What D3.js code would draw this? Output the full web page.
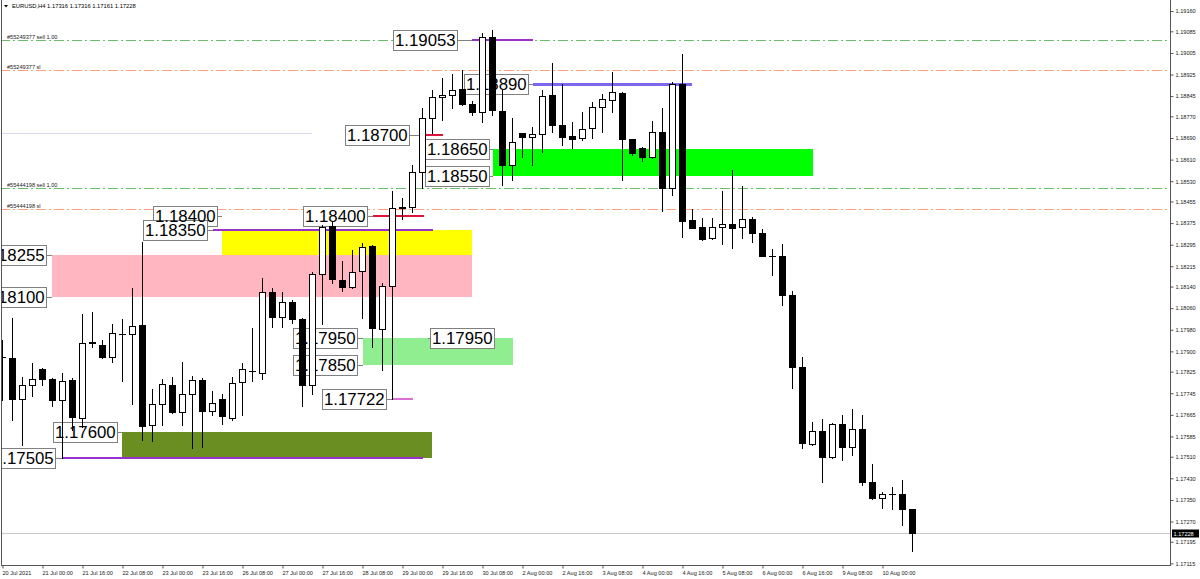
<!DOCTYPE html>
<html><head><meta charset="utf-8">
<script src="https://cdn.jsdelivr.net/npm/d3@7"></script>
<style>body{margin:0;background:#fff;overflow:hidden}svg{display:block}</style>
</head><body>
<svg id="c" width="1200" height="579"></svg>
<script>
// ---------- DATA ----------
const symbolInfo = "EURUSD,H4  1.17316 1.17316 1.17161 1.17228";
const open = [1.17879,1.17875,1.17723,1.17775,1.17834,1.17797,1.17720,1.17794,1.17653,1.17931,
1.17923,1.17879,1.17964,1.17964,1.17997,1.17627,1.17705,1.17775,1.17675,1.17742,
1.17794,1.17679,1.17723,1.17653,1.17786,1.17827,1.17819,1.18119,1.18027,1.18082,
1.18020,1.17775,1.18186,1.18364,1.18164,1.18138,1.18197,1.18290,1.17983,1.18142,
1.18431,1.18434,1.18564,1.18764,1.18842,1.18849,1.18871,1.18816,1.18786,1.19064,
1.18790,1.18590,1.18708,1.18694,1.18705,1.18849,1.18738,1.18697,1.18690,1.18727,
1.18805,1.18831,1.18857,1.18686,1.18653,1.18619,1.18712,1.18505,1.18890,1.18386,
1.18360,1.18320,1.18360,1.18371,1.18360,1.18390,1.18338,1.18253,1.18253,1.18108,
1.17842,1.17557,1.17605,1.17508,1.17631,1.17545,1.17612,1.17416,1.17357,1.17371,
1.17371,1.17316];
const high = [1.17942,1.18023,1.17805,1.17857,1.17838,1.17801,1.17820,1.17801,1.18038,1.18045,
1.17942,1.18001,1.18020,1.18134,1.18305,1.17760,1.17797,1.17805,1.17860,1.17808,
1.17801,1.17753,1.17742,1.17805,1.17857,1.17986,1.18171,1.18134,1.18120,1.18090,
1.18022,1.18194,1.18368,1.18379,1.18234,1.18275,1.18301,1.18292,1.18153,1.18494,
1.18468,1.18590,1.18801,1.18868,1.18912,1.18927,1.18942,1.18827,1.19079,1.19090,
1.18868,1.18764,1.18710,1.18731,1.18868,1.18968,1.18890,1.18749,1.18786,1.18823,
1.18853,1.18934,1.18860,1.18688,1.18655,1.18753,1.18801,1.18897,1.19001,1.18427,
1.18394,1.18394,1.18494,1.18571,1.18512,1.18397,1.18353,1.18279,1.18297,1.18123,
1.17879,1.17638,1.17649,1.17633,1.17664,1.17686,1.17664,1.17483,1.17379,1.17397,
1.17423,1.17316];
const low = [1.17720,1.17645,1.17553,1.17734,1.17775,1.17697,1.17506,1.17608,1.17620,1.17916,
1.17875,1.17860,1.17790,1.17705,1.17571,1.17568,1.17627,1.17671,1.17627,1.17542,
1.17545,1.17664,1.17631,1.17645,1.17664,1.17790,1.17797,1.17990,1.17990,1.18005,
1.17697,1.17742,1.18001,1.18153,1.18123,1.18136,1.18023,1.17916,1.17831,1.17722,
1.18390,1.18416,1.18505,1.18708,1.18757,1.18801,1.18812,1.18775,1.18749,1.18775,
1.18516,1.18534,1.18619,1.18590,1.18638,1.18712,1.18664,1.18653,1.18682,1.18690,
1.18712,1.18786,1.18534,1.18627,1.18605,1.18617,1.18419,1.18479,1.18323,1.18357,
1.18312,1.18316,1.18297,1.18282,1.18320,1.18305,1.18253,1.18182,1.18071,1.17764,
1.17542,1.17555,1.17416,1.17506,1.17497,1.17516,1.17405,1.17353,1.17320,1.17316,
1.17257,1.17161];
const close = [1.17879,1.17723,1.17775,1.17797,1.17797,1.17720,1.17790,1.17657,1.17931,1.17934,
1.17879,1.17968,1.17964,1.17994,1.17623,1.17705,1.17779,1.17675,1.17742,1.17794,
1.17679,1.17708,1.17660,1.17782,1.17834,1.17827,1.18119,1.18027,1.18082,1.18020,
1.17775,1.18186,1.18360,1.18168,1.18138,1.18194,1.18286,1.17986,1.18142,1.18431,
1.18434,1.18564,1.18764,1.18842,1.18849,1.18868,1.18816,1.18786,1.19064,1.18794,
1.18590,1.18675,1.18694,1.18705,1.18845,1.18738,1.18694,1.18686,1.18723,1.18805,
1.18834,1.18860,1.18686,1.18634,1.18619,1.18712,1.18505,1.18890,1.18382,1.18357,
1.18316,1.18360,1.18371,1.18357,1.18390,1.18338,1.18253,1.18253,1.18108,1.17842,
1.17560,1.17605,1.17508,1.17631,1.17545,1.17612,1.17416,1.17357,1.17371,1.17371,
1.17316,1.17228];
const timeLabels = ["20 Jul 2021","21 Jul 00:00","21 Jul 16:00","22 Jul 08:00","23 Jul 00:00","23 Jul 16:00",
"26 Jul 08:00","27 Jul 00:00","27 Jul 16:00","28 Jul 08:00","29 Jul 00:00","29 Jul 16:00","30 Jul 08:00",
"2 Aug 00:00","2 Aug 16:00","3 Aug 08:00","4 Aug 00:00","4 Aug 16:00","5 Aug 08:00","6 Aug 00:00",
"6 Aug 16:00","9 Aug 08:00","10 Aug 00:00"];
const timeLabelBars = [0,4,8,12,16,20,24,28,32,36,40,44,48,52,56,60,64,68,72,76,80,84,88];
const priceTicks = [1.19160,1.19085,1.19005,1.18925,1.18845,1.18770,1.18690,1.18610,1.18530,1.18455,
1.18375,1.18295,1.18215,1.18140,1.18060,1.17980,1.17900,1.17825,1.17745,1.17665,1.17585,1.17510,
1.17430,1.17350,1.17270,1.17195,1.17115];
const currentPrice = 1.17228;
// trade levels
const tradeNames = ["#55249377 sell 1.00","#55249377 sl","#55444198 sell 1.00","#55444198 sl"];
const tradePrices = [1.19053,1.18943,1.18505,1.18427];
const tradeKinds = ["entry","sl","entry","sl"];
// zones (bar index from/to, price top/bottom)
const zoneFrom = [5,22,49.1,36.1,12];
const zoneTo = [47,47,81.1,51.1,43];
const zoneTop = [1.18255,1.18350,1.18650,1.17950,1.17600];
const zoneBottom = [1.18100,1.18255,1.18550,1.17850,1.17505];
const zoneKind = ["pink","yellow","lime","lightgreen","olive"];
// horizontal segments
const segPrice = [1.19053,1.18890,1.18700,1.18400,1.18350,1.17722,1.17505,1.18709];
const segFrom = [47,53.1,41.8,37.1,21.1,39.1,6,-1];
const segTo = [53.1,69,44.1,42.2,43.1,41.1,42.1,31];
const segKind = ["purple","slate","red","red","purple","orchid","purple","faint"];
// price labels (anchor bar index = connector end, box edge bar index)
const labelPrice = [1.19053,1.18890,1.18700,1.18650,1.18550,1.18400,1.18350,1.18400,1.18255,1.18100,1.17950,1.17950,1.17850,1.17722,1.17600,1.17505];
const labelEdge  = [45.5,52.6,40.7,48.7,48.7,21.5,20.5,36.5,4.4,4.4,35.5,42.8,35.5,38.4,11.5,5.3];
const labelAnchor= [47,53.1,41.8,49.1,49.1,22,21.1,37.1,5,5,36.1,42.6,36.1,39.1,12,6];

// ---------- STYLES ----------
const zoneColors = {pink:"#ffb6c1",yellow:"#ffff00",lime:"#00ff00",lightgreen:"#90ee90",olive:"#6b8e23"};
const segColors = {purple:"#9932cc",slate:"#7b68ee",red:"#dc143c",orchid:"#da70d6",faint:"#d8d8ee"};
const segWidths = {purple:2,slate:3,red:2,orchid:2,faint:1};
const tradeColors = {entry:"#6cbd6c",sl:"#ff9f7f"};
const FONT="Liberation Sans, Arial, sans-serif";

const W=1200,H=579,PR=1170,PB=565;
const svg=d3.select("#c");
svg.append("rect").attr("width",W).attr("height",H).attr("fill","#fff");
const x=d3.scaleLinear().domain([0,116.8]).range([2,1170]);
const y=d3.scaleLinear().domain([1.17109,1.19201]).range([565,0]);
const px=v=>Math.round(x(v));
const py=v=>Math.round(y(v));

svg.append("defs").append("clipPath").attr("id","pc").append("rect").attr("x",1).attr("y",0).attr("width",PR-1).attr("height",PB);
const plot=svg.append("g").attr("clip-path","url(#pc)");

// zones
plot.append("g").selectAll("rect").data(zoneKind).join("rect")
 .attr("x",(d,i)=>px(zoneFrom[i])).attr("width",(d,i)=>px(zoneTo[i])-px(zoneFrom[i]))
 .attr("y",(d,i)=>py(zoneTop[i])).attr("height",(d,i)=>py(zoneBottom[i])-py(zoneTop[i]))
 .attr("fill",d=>zoneColors[d]);

// current price line
plot.append("line").attr("x1",0).attr("x2",PR).attr("y1",py(currentPrice)+0.5).attr("y2",py(currentPrice)+0.5)
 .attr("stroke","#c8c8c8").attr("stroke-width",1);

// trade lines
const tg=plot.append("g");
tg.selectAll("line").data(tradePrices).join("line")
 .attr("x1",0).attr("x2",PR).attr("y1",d=>py(d)+0.5).attr("y2",d=>py(d)+0.5)
 .attr("stroke",(d,i)=>tradeColors[tradeKinds[i]]).attr("stroke-width",1).attr("stroke-dasharray","10,3,2,3");
tg.selectAll("text").data(tradeNames).join("text")
 .attr("x",7).attr("y",(d,i)=>py(tradePrices[i])-1.5).text(d=>d)
 .attr("font-family",FONT).attr("font-size",5.6).attr("fill","#222");

// segments
plot.append("g").selectAll("line").data(segPrice).join("line")
 .attr("x1",(d,i)=>x(segFrom[i])).attr("x2",(d,i)=>x(segTo[i]))
 .attr("y1",(d,i)=>py(d)+(segWidths[segKind[i]]%2?0.5:0)).attr("y2",(d,i)=>py(d)+(segWidths[segKind[i]]%2?0.5:0))
 .attr("stroke",(d,i)=>segColors[segKind[i]]).attr("stroke-width",(d,i)=>segWidths[segKind[i]]);

// price labels
const lg=plot.append("g");
labelPrice.forEach((p,i)=>{
  const yy=py(p);
  const edge=px(labelEdge[i]), anc=px(labelAnchor[i]);
  const right = anc>=edge; // box is left of anchor
  const t=lg.append("text").attr("font-family",FONT).attr("font-size",16.8)
    .attr("fill","#000").text(p.toFixed(5)).attr("y",yy+6);
  const tw=t.node().getComputedTextLength();
  const bw=Math.round(tw+3), bh=20;
  const bx= right? edge-bw : edge;
  lg.insert("line","text").attr("x1",right?edge:anc).attr("x2",right?anc:edge).attr("y1",yy+0.5).attr("y2",yy+0.5)
    .attr("stroke","#808080");
  lg.insert("rect","text").attr("x",bx+0.5).attr("y",yy-10+0.5).attr("width",bw).attr("height",bh)
    .attr("fill","#fff").attr("stroke","#808080");
  t.attr("x",bx+2);
});

// candles
const cg=plot.append("g");
const idx=d3.range(open.length);
cg.selectAll("line.w").data(idx).join("line").attr("class","w")
 .attr("x1",i=>px(i)+0.5).attr("x2",i=>px(i)+0.5).attr("y1",i=>py(high[i])).attr("y2",i=>py(low[i])+1)
 .attr("stroke","#000");
cg.selectAll("rect.b").data(idx.filter(i=>py(open[i])!==py(close[i]))).join("rect").attr("class","b")
 .attr("x",i=>px(i)-2.5).attr("width",6)
 .attr("y",i=>Math.min(py(open[i]),py(close[i]))+0.5)
 .attr("height",i=>Math.abs(py(open[i])-py(close[i])))
 .attr("fill",i=>close[i]>=open[i]?"#fff":"#000").attr("stroke","#000");
cg.selectAll("line.d").data(idx.filter(i=>py(open[i])===py(close[i]))).join("line").attr("class","d")
 .attr("x1",i=>px(i)-3).attr("x2",i=>px(i)+4).attr("y1",i=>py(open[i])+0.5).attr("y2",i=>py(open[i])+0.5)
 .attr("stroke","#000");

// frame
const axCol="#555";
svg.append("line").attr("x1",1.5).attr("x2",1.5).attr("y1",0).attr("y2",PB).attr("stroke",axCol);
svg.append("line").attr("x1",PR+0.5).attr("x2",PR+0.5).attr("y1",0).attr("y2",PB+1).attr("stroke",axCol);
svg.append("line").attr("x1",1).attr("x2",PR+1).attr("y1",PB+0.5).attr("y2",PB+0.5).attr("stroke",axCol);

// right axis
const ra=svg.append("g").attr("transform",`translate(${PR+0.5},0)`)
 .call(d3.axisRight(y).tickValues(priceTicks).tickFormat(d3.format(".5f")).tickSize(3).tickPadding(2));
ra.select(".domain").remove();
ra.selectAll("line").attr("stroke",axCol);
ra.selectAll("text").attr("font-family",FONT).attr("font-size",5.6).attr("fill","#222");

// bottom axis
const ba=svg.append("g").attr("transform",`translate(0.5,${PB+0.5})`)
 .call(d3.axisBottom(x).tickValues(timeLabelBars).tickFormat((d,i)=>timeLabels[i]).tickSize(3).tickPadding(2.5));
ba.select(".domain").remove();
ba.selectAll("line").attr("stroke",axCol);
ba.selectAll("text").attr("text-anchor","start").attr("x",-0.5)
 .attr("font-family",FONT).attr("font-size",5.6).attr("fill","#222");

// header
svg.append("path").attr("d","M4,5 L8,5 L6,7.5 Z").attr("fill","#000");
svg.append("text").attr("x",12).attr("y",8.2).text(symbolInfo)
 .attr("font-family",FONT).attr("font-size",5.8).attr("fill","#000");

// current price tag
const cy=py(currentPrice);
svg.append("rect").attr("x",PR+2).attr("y",cy-3.5).attr("width",27).attr("height",8).attr("fill","#000");
svg.append("text").attr("x",PR+3.5).attr("y",cy+2.6).text(currentPrice.toFixed(5))
 .attr("font-family",FONT).attr("font-size",5.6).attr("fill","#fff");
</script>
</body></html>
